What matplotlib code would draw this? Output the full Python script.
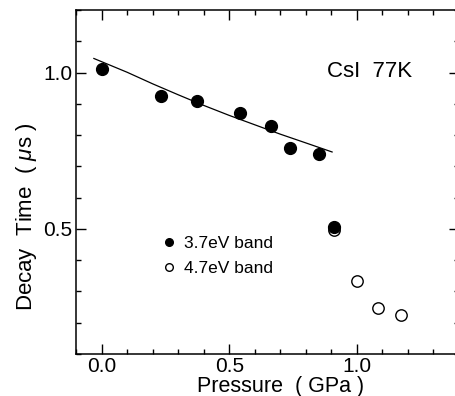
import matplotlib
matplotlib.use('Agg')
import matplotlib.pyplot as plt
import matplotlib.lines as mlines
from matplotlib.ticker import MultipleLocator, FormatStrFormatter

plt.rcParams['font.family'] = ['Liberation Sans', 'DejaVu Sans']
plt.rcParams['mathtext.fontset'] = 'custom'
plt.rcParams['mathtext.it'] = 'Liberation Sans:italic'
plt.rcParams['mathtext.rm'] = 'Liberation Sans'

# 3.7 eV band (filled circles)
p_37 = [0.0, 0.231, 0.372, 0.542, 0.662, 0.740, 0.851, 0.912]
t_37 = [1.011, 0.925, 0.909, 0.872, 0.829, 0.760, 0.738, 0.505]

# 4.7 eV band (open circles)
p_47 = [0.912, 1.001, 1.082, 1.171]
t_47 = [0.495, 0.332, 0.247, 0.225]

# fitted line
p_fit = [-0.03, 0.1, 0.2, 0.3, 0.4, 0.5, 0.6, 0.7, 0.8, 0.903]
t_fit = [1.045, 1.001, 0.964, 0.929, 0.895, 0.863, 0.833, 0.803, 0.775, 0.746]

fig = plt.figure(figsize=(4.56, 3.96), dpi=100)
ax = fig.add_axes([76 / 456, 42 / 396, 383 / 456, 344 / 396])

ax.plot(p_fit, t_fit, color='black', linewidth=0.9)
ax.plot(p_37, t_37, 'o', color='black', markersize=8.5, zorder=5)
ax.plot(p_47, t_47, 'o', markerfacecolor='white', markeredgecolor='black',
        markersize=8.2, markeredgewidth=1.0, zorder=4)

ax.set_xlim(-0.1, 1.4)
ax.set_ylim(0.1, 1.2)
ax.xaxis.set_major_locator(MultipleLocator(0.5))
ax.xaxis.set_minor_locator(MultipleLocator(0.1))
ax.yaxis.set_major_locator(MultipleLocator(0.5))
ax.yaxis.set_minor_locator(MultipleLocator(0.1))
ax.xaxis.set_major_formatter(FormatStrFormatter('%.1f'))
ax.yaxis.set_major_formatter(FormatStrFormatter('%.1f'))
ax.tick_params(which='both', direction='in', top=True, right=True, width=1.0)
ax.tick_params(which='major', length=7, labelsize=15, pad=2.5)
ax.tick_params(which='minor', length=3.5)
for sp in ax.spines.values():
    sp.set_linewidth(1.1)

ax.set_xlabel('Pressure  ( GPa )', fontsize=15.5)
ax.xaxis.set_label_coords(0.535, -0.064)
ax.set_ylabel(r'Decay  Time  ( $\mathit{\mu}$s )', fontsize=16)
ax.yaxis.set_label_coords(-0.096, 0.40)

ax.text(0.884, 0.987, 'CsI  77K', fontsize=16, ha='left', va='baseline')

h1 = mlines.Line2D([], [], linestyle='none', marker='o', color='black',
                   markersize=5.5, label='3.7eV band')
h2 = mlines.Line2D([], [], linestyle='none', marker='o', markerfacecolor='white',
                   markeredgecolor='black', markersize=5.5, label='4.7eV band')
ax.legend(handles=[h1, h2], loc='upper left', bbox_to_anchor=(0.225, 0.344),
          frameon=False, fontsize=12.5, handlelength=0.8, handletextpad=0.45,
          labelspacing=0.6, borderpad=0, borderaxespad=0)

fig.savefig('out.png', dpi=100)
